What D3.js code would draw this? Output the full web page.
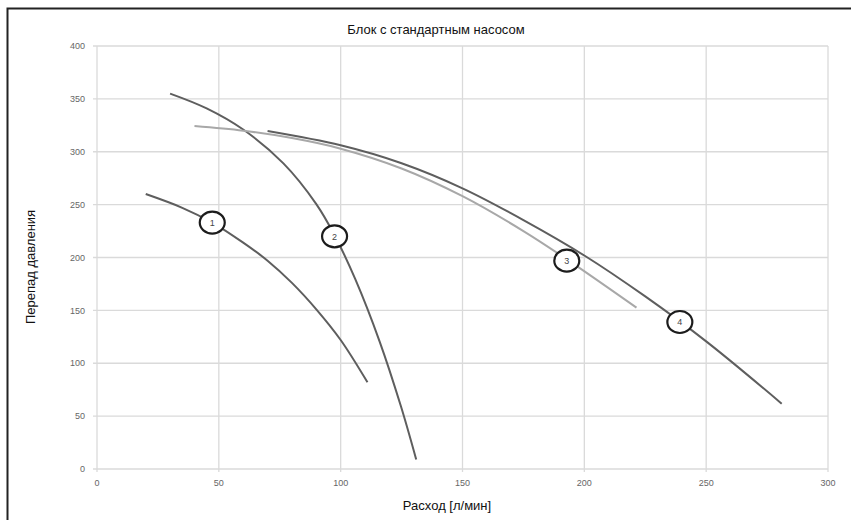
<!DOCTYPE html>
<html>
<head>
<meta charset="utf-8">
<script src="https://cdn.jsdelivr.net/npm/d3@7"></script>
<style>
  body { margin: 0; background: #fff; }
  text { font-family: "Liberation Sans", "Noto Sans", sans-serif; }
</style>
</head>
<body>
<div id="plot"></div>
<script>
// chart data

const title = "Блок с стандартным насосом";
const xLabel = "Расход [л/мин]";
const yLabel = "Перепад давления";

const xTicks = [0, 50, 100, 150, 200, 250, 300];
const yTicks = [0, 50, 100, 150, 200, 250, 300, 350, 400];

const curveNames = ["1", "2", "3", "4"];

const flow1 = [20, 35, 47.3, 60, 70, 80, 90, 100, 111];
const dp1   = [260, 247, 233, 214, 197, 176, 151, 122, 82];

const flow2 = [30, 45, 60, 76.5, 90, 97.5, 106, 116, 124.7, 131];
const dp2   = [355, 341, 321, 289, 250.5, 221, 179.5, 120.5, 59.5, 9];

const flow3 = [40, 60, 80, 100, 125, 150, 175, 193, 221.4];
const dp3   = [324.3, 319.9, 312.9, 302.9, 284.2, 258, 225, 198, 152.6];

const flow4 = [70, 100, 125, 150, 175, 200, 225, 250, 281];
const dp4   = [319.6, 306.1, 289.1, 265.4, 235.4, 201.9, 163.2, 120.7, 61.8];

// where the numbered rings sit on each curve
const labelFlow = [47.3, 97.5, 192.8, 239.2];
const labelDp   = [233, 220, 197, 139];

const lineColors = ["#5e5e5e", "#5e5e5e", "#a8a8a8", "#5e5e5e"];

const w = 851;
const h = 520;
const margin = {top: 46, right: 23, bottom: 51, left: 97};
const innerWidth = w - margin.left - margin.right;
const innerHeight = h - margin.top - margin.bottom;

const series = [[flow1, dp1], [flow2, dp2], [flow3, dp3], [flow4, dp4]]
  .map(([xs, ys], i) => ({
    name: curveNames[i],
    color: lineColors[i],
    points: xs.map((x, j) => ({x: x, y: ys[j]})),
    label: {x: labelFlow[i], y: labelDp[i]}
  }));

const xScale = d3.scaleLinear()
    .domain([0, 300])
    .range([0, innerWidth]);

const yScale = d3.scaleLinear()
    .domain([0, 400])
    .range([innerHeight, 0]);

const svg = d3.select("#plot")
  .append("svg")
    .attr("width", w)
    .attr("height", h);

svg.append("rect")
    .attr("width", w)
    .attr("height", h)
    .attr("fill", "#fff");

// outer frame (only top and left edges show in the picture)
svg.append("path")
    .attr("d", `M7.5,${h} V8.5 H${w}`)
    .attr("fill", "none")
    .attr("stroke", "#222")
    .attr("stroke-width", 2);

const g = svg.append("g")
    .attr("transform", `translate(${margin.left}, ${margin.top})`);

// gridlines
g.append("g")
  .selectAll("line")
  .data(xTicks)
  .join("line")
    .attr("x1", d => xScale(d))
    .attr("x2", d => xScale(d))
    .attr("y1", 0)
    .attr("y2", innerHeight + 3)
    .attr("stroke", "#dadada")
    .attr("stroke-width", 1.3);

g.append("g")
  .selectAll("line")
  .data(yTicks)
  .join("line")
    .attr("x1", -4)
    .attr("x2", innerWidth)
    .attr("y1", d => yScale(d))
    .attr("y2", d => yScale(d))
    .attr("stroke", "#dadada")
    .attr("stroke-width", 1.3);

// tick labels
g.append("g")
  .selectAll("text")
  .data(xTicks)
  .join("text")
    .attr("x", d => xScale(d))
    .attr("y", innerHeight + 17)
    .attr("text-anchor", "middle")
    .attr("font-size", 9)
    .attr("fill", "#666")
    .text(d => d);

g.append("g")
  .selectAll("text")
  .data(yTicks)
  .join("text")
    .attr("x", -12)
    .attr("y", d => yScale(d))
    .attr("dy", "0.35em")
    .attr("text-anchor", "end")
    .attr("font-size", 9)
    .attr("fill", "#666")
    .text(d => d);

// curves
const line = d3.line()
    .x(d => xScale(d.x))
    .y(d => yScale(d.y))
    .curve(d3.curveCatmullRom.alpha(0.5));

g.append("g")
  .selectAll("path")
  .data(series)
  .join("path")
    .attr("d", d => line(d.points))
    .attr("fill", "none")
    .attr("stroke", d => d.color)
    .attr("stroke-width", 2);

// numbered rings
const rings = g.append("g")
  .selectAll("g")
  .data(series)
  .join("g")
    .attr("transform", d => `translate(${xScale(d.label.x)}, ${yScale(d.label.y)})`);

rings.append("ellipse")
    .attr("rx", 12.5)
    .attr("ry", 11)
    .attr("fill", "#fff")
    .attr("stroke", "#1c1c1c")
    .attr("stroke-width", 2.2);

rings.append("text")
    .attr("text-anchor", "middle")
    .attr("dy", "0.35em")
    .attr("font-size", 9)
    .attr("fill", "#444")
    .text(d => d.name);

// titles
svg.append("text")
    .attr("x", 436)
    .attr("y", 34)
    .attr("text-anchor", "middle")
    .attr("font-size", 13)
    .attr("fill", "#111")
    .text(title);

svg.append("text")
    .attr("x", 447)
    .attr("y", 510)
    .attr("text-anchor", "middle")
    .attr("font-size", 13)
    .attr("fill", "#111")
    .text(xLabel);

svg.append("text")
    .attr("transform", "translate(35, 267) rotate(-90)")
    .attr("text-anchor", "middle")
    .attr("font-size", 13)
    .attr("fill", "#111")
    .text(yLabel);
</script>
</body>
</html>
